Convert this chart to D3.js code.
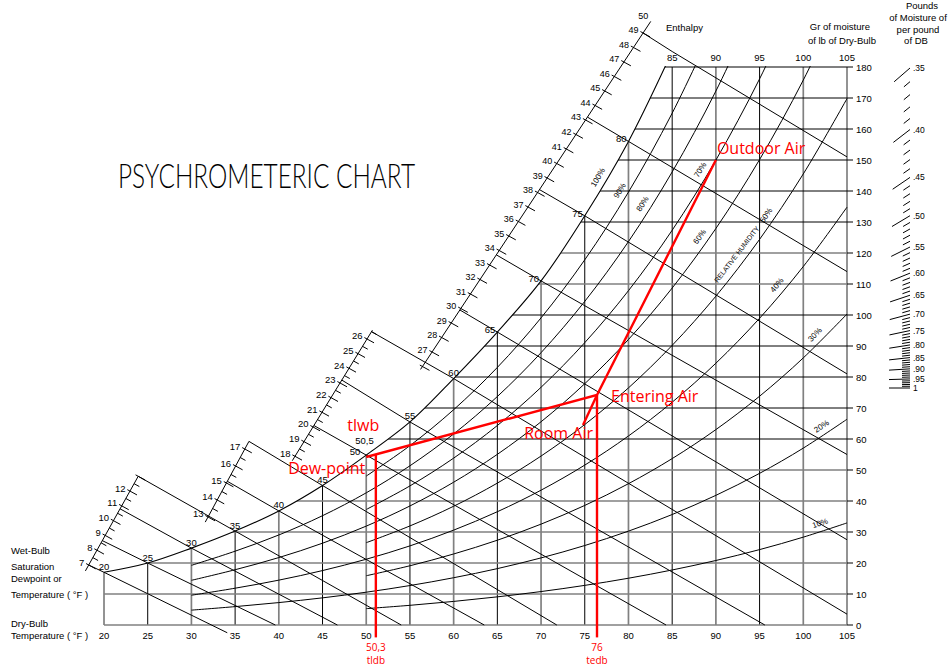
<!DOCTYPE html>
<html>
<head>
<meta charset="utf-8">
<title>Psychrometric chart</title>
<script src="https://cdn.jsdelivr.net/npm/d3@7/dist/d3.min.js"></script>
<style>
  html, body { margin:0; padding:0; background:#fff; }
  svg { display:block; }
  text { font-family: "Liberation Sans", Arial, Helvetica, sans-serif; fill:#000; }
  text.red { fill:#ff0000; font-family: "Open Sans", "Noto Sans", sans-serif; }
  text.title { font-family: "Lato", "Roboto", "DejaVu Sans", sans-serif; font-weight: 300; }
</style>
</head>
<body>
<svg id="chart" width="948" height="666"></svg>
<script>
// ---------------- data ----------------
const dryBulbTicks = [20,25,30,35,40,45,50,55,60,65,70,75,80,85,90,95,100,105];
const topDryBulbLabels = [85,90,95,100,105];
const grainTicks = [0,10,20,30,40,50,60,70,80,90,100,110,120,130,140,150,160,170,180];
const greyDryBulb = [20,30,40,50,60,70,80,90,100,105];
const greyGrains = [0,10,20,30,40,50,110,120];

// saturation (100% RH) curve: [dry-bulb °F, grains/lb]
const saturation = [[20,17],[25,20],[30,24.8],[35,30.3],[40,36.8],[45,45],[50,54.8],[55,65.5],
                    [60,79.5],[65,94.5],[70,111],[75,132],[80,156],[85,185]];

// wet-bulb / enthalpy lines
const wetBulbTemps    = [20,25,30,35,40,45,50,55,60,65,70,75,80,85];
const wetBulbEnthalpy = [7.0,8.65,10.8,13.0,15.1,17.45,20.1,23.2,26.5,29.9,33.7,38.2,43.2,49.0];
const wetBulbScale    = ['A','A','A','A','B','B','C','C','C','D','D','D','D','D'];
const wetBulbEnd      = [[34.1,-2.5],[39.6,0],[46.7,0],[54,0],[63.5,0],[71.8,0],[84.3,0],[95.6,0],
                         [105,3.5],[105,27.5],[105,55],[105,81],[105,114],[105,151]];

// relative humidity curves (grains/lb)
const rhEvenTemps = [30,35,40,45,50,55,60,65,70,75,80,85,90,95,100,105];
const rh20 = [4.79,5.93,7.23,8.76,10.58,12.73,15.25,18.19,21.64,25.64,30.28,35.64,41.82,48.92,57.06,66.37];
const rh40 = [9.60,11.87,14.47,17.56,21.21,25.52,30.60,36.54,43.49,51.58,60.98,71.87,84.45,98.95,115.64,134.79];
const rh60 = [14.41,17.83,21.75,26.39,31.90,38.40,46.06,55.05,65.56,77.84,92.11,108.70,127.91,150.14,175.78,205.4];
const rh80 = [19.24,23.81,29.04,35.26,42.64,51.36,61.62,73.70,87.85,104.40,123.69,146.15,172.24,202.5,null,null];
const rhOddTemps = [50,55,60,65,70,75,80,85,90,95,100,105];
const rh10 = [5.28,6.35,7.61,9.08,10.79,12.78,15.09,17.75,20.81,24.32,28.34,32.93];
const rh30 = [15.89,19.11,22.91,27.35,32.54,38.57,45.58,53.68,63.03,73.80,86.16,100.31];
const rh50 = [26.55,31.96,38.31,45.77,54.50,64.67,76.49,90.21,106.07,124.40,145.51,169.80];
const rh70 = [37.26,44.87,53.83,64.35,76.68,91.08,107.85,127.35,149.97,176.17,206.5,null];
const rh90 = [48.03,57.86,69.45,83.09,99.08,117.80,139.65,165.11,194.7,null,null,null];
const rhLevels = [10,20,30,40,50,60,70,80,90,100];
const rhLabelTemps = [102.2,102.6,102,97.7,96.5,88.9,89,82.4,79.8,77.3];
const rhTitle = "RELATIVE HUMIDITY";
const rhTitleTemp = 93.2;

// enthalpy scales (value -> position on chart in [°F, grains])
const enthScaleA = {lo:6.6,  hi:13.0,  v0:7,  p0:[18.25,19.35], v1:12, p1:[22.97,43.2],  labels:[7,8,9,10,11,12],  half:true};
const enthScaleB = {lo:12.7, hi:17.45, v0:13, p0:[31.9,34.84],  v1:17.6, p1:[36.74,60.06], labels:[13,14,15,16,17], half:true};
const enthScaleC = {lo:17.7, hi:26.6,  v0:18, p0:[41.85,54.42], v1:26, p1:[50.09,92.26], labels:[18,19,20,21,22,23,24,25,26], half:true};
const enthScaleD = {lo:25.8, hi:49.8,  v0:27, p0:[57.53,88.06], v1:49, p1:[81.67,190.97],
                    labels:[27,28,29,30,31,32,33,34,35,36,37,38,39,40,41,42,43,44,45,46,47,48,49,50], half:false};

// right-hand scale
const shfMajor = [0.35,0.40,0.45,0.50,0.55,0.60,0.65,0.70,0.75,0.80,0.85,0.90,0.95,1.00];
const shfLabels = ['.35','.40','.45','.50','.55','.60','.65','.70','.75','.80','.85','.90','.95','1'];

// red process overlay
const redDewPoint = [50, 54.2];
const redEntering = [76.4, 74.2];
const redOutdoor  = [90, 150];
const redRoom     = [74.8, 64.5];
const redTldb = 51.1, redTldbLabel = ['50,3','tldb'];
const redTedb = 76.4, redTedbLabel = ['76','tedb'];
const redBottom = -4;

// ---------------- drawing ----------------
const svg = d3.select('#chart');
const x = d3.scaleLinear().domain([20,105]).range([104,847]);
const y = d3.scaleLinear().domain([0,180]).range([625,67]);
const P = d => [x(d[0]), y(d[1])];
const curveGen = d3.line().defined(d => d[1] != null)
  .x(d => x(d[0])).y(d => y(d[1])).curve(d3.curveCatmullRom.alpha(0.5));
const satG = T => saturation.find(s => s[0] === T)[1];

const defs = svg.append('defs');
defs.append('clipPath').attr('id','frameClip').append('rect')
  .attr('x', x(20)-1.5).attr('y', y(180)-1).attr('width', x(105)-x(20)+3).attr('height', y(0)-y(180)+2.5);
const satPath = curveGen(saturation);
const lastSat = saturation[saturation.length-1];
defs.append('clipPath').attr('id','satClip').append('path')
  .attr('d', satPath + `L${x(105)+3},${y(lastSat[1])}L${x(105)+3},${y(0)+3}L${x(20)-3},${y(0)+3}L${x(20)-3},${y(saturation[0][1])}Z`);

const gGrid = svg.append('g').attr('clip-path','url(#frameClip)')
  .append('g').attr('clip-path','url(#satClip)');

// dry-bulb verticals
gGrid.selectAll('line.v').data(dryBulbTicks).join('line')
  .attr('x1', d => x(d)).attr('x2', d => x(d)).attr('y1', y(0)).attr('y2', y(180))
  .attr('stroke', d => greyDryBulb.includes(d) ? '#808080' : '#000')
  .attr('stroke-width', d => greyDryBulb.includes(d) ? 1.7 : 1);

// grain horizontals
gGrid.selectAll('line.h').data(grainTicks).join('line')
  .attr('x1', x(20)).attr('x2', x(105)).attr('y1', d => y(d)).attr('y2', d => y(d))
  .attr('stroke', d => greyGrains.includes(d) ? '#808080' : '#000')
  .attr('stroke-width', d => greyGrains.includes(d) ? 1.7 : 1);

// RH curves
const rhCurves = [
  {rh:10, pts: rhOddTemps.map((t,i)=>[t,rh10[i]])},
  {rh:20, pts: rhEvenTemps.map((t,i)=>[t,rh20[i]])},
  {rh:30, pts: rhOddTemps.map((t,i)=>[t,rh30[i]])},
  {rh:40, pts: rhEvenTemps.map((t,i)=>[t,rh40[i]])},
  {rh:50, pts: rhOddTemps.map((t,i)=>[t,rh50[i]])},
  {rh:60, pts: rhEvenTemps.map((t,i)=>[t,rh60[i]])},
  {rh:70, pts: rhOddTemps.map((t,i)=>[t,rh70[i]])},
  {rh:80, pts: rhEvenTemps.map((t,i)=>[t,rh80[i]])},
  {rh:90, pts: rhOddTemps.map((t,i)=>[t,rh90[i]])},
  {rh:100, pts: saturation}
];
gGrid.selectAll('path.rh').data(rhCurves.filter(c => c.rh < 100)).join('path')
  .attr('d', c => curveGen(c.pts)).attr('fill','none').attr('stroke','#000').attr('stroke-width',1);

// saturation curve
svg.append('g').attr('clip-path','url(#frameClip)').append('path')
  .attr('d', satPath).attr('fill','none').attr('stroke','#000').attr('stroke-width',1.1);

// right-edge tick extensions and grain labels
svg.selectAll('line.gt').data(grainTicks).join('line')
  .attr('x1', x(105)).attr('x2', x(105)+6).attr('y1', d=>y(d)).attr('y2', d=>y(d))
  .attr('stroke','#000').attr('stroke-width',1);
svg.selectAll('text.gl').data(grainTicks).join('text')
  .attr('x', x(105)+9).attr('y', d => y(d)+3.5).attr('font-size', 9.5).text(d => d);

// bottom dry-bulb labels
svg.selectAll('text.db').data(dryBulbTicks).join('text')
  .attr('x', d => x(d)).attr('y', 639).attr('text-anchor','middle').attr('font-size', 9.5).text(d => d);
// top dry-bulb labels
svg.selectAll('text.dbt').data(topDryBulbLabels).join('text')
  .attr('x', d => x(d)).attr('y', y(180)-6).attr('text-anchor','middle').attr('font-size', 9.5).text(d => d);

// enthalpy scales
const enthScales = {A:enthScaleA, B:enthScaleB, C:enthScaleC, D:enthScaleD};
function enthPoint(s, v) {
  const t = (v - s.v0) / (s.v1 - s.v0);
  return [s.p0[0] + t*(s.p1[0]-s.p0[0]), s.p0[1] + t*(s.p1[1]-s.p0[1])];
}
const wbDir = (() => { const l = Math.hypot(1, 0.55); return [1/l, 0.55/l]; })();
const gScale = svg.append('g').attr('stroke','#000').attr('stroke-width',1).attr('fill','none');
Object.values(enthScales).forEach(s => {
  const a = P(enthPoint(s, s.lo)), b = P(enthPoint(s, s.hi));
  gScale.append('line').attr('x1',a[0]).attr('y1',a[1]).attr('x2',b[0]).attr('y2',b[1]);
  const step = s.half ? 0.5 : 1;
  const ticks = d3.range(Math.ceil(s.lo/step)*step, s.hi + 1e-6, step);
  ticks.forEach(v => {
    const p = P(enthPoint(s, v));
    const isInt = Math.abs(v - Math.round(v)) < 1e-6;
    const back = isInt ? 3 : 0, fwd = isInt ? 8 : 6;
    gScale.append('line')
      .attr('x1', p[0]-wbDir[0]*back).attr('y1', p[1]-wbDir[1]*back)
      .attr('x2', p[0]+wbDir[0]*fwd).attr('y2', p[1]+wbDir[1]*fwd);
  });
  const fs = s.half ? 9.5 : 9;
  s.labels.forEach(v => {
    const p = P(enthPoint(s, v));
    svg.append('text').attr('x', p[0]-4.5).attr('y', p[1]+0.5)
      .attr('text-anchor','end').attr('font-size', fs).text(v);
  });
});

// wet-bulb lines
const gWb = svg.append('g').attr('stroke','#000').attr('stroke-width',1).attr('fill','none');
wetBulbTemps.forEach((T, i) => {
  const s = enthScales[wetBulbScale[i]];
  const a = P(enthPoint(s, wetBulbEnthalpy[i]));
  const m = P([T, satG(T)]);
  const e = P(wetBulbEnd[i]);
  gWb.append('path').attr('d', `M${a[0]},${a[1]}L${m[0]},${m[1]}L${e[0]},${e[1]}`);
});
// wet-bulb labels on saturation curve
wetBulbTemps.filter(T => T < 85).forEach(T => {
  const m = P([T, satG(T)]);
  const left = T >= 65 || T === 50;
  svg.append('text')
    .attr('x', left ? m[0] - (T === 50 ? 6 : 2) : m[0])
    .attr('y', left ? m[1] + (T === 50 ? -0.5 : 1) : m[1] - 2.5)
    .attr('text-anchor', left ? 'end' : 'middle')
    .attr('font-size', 9.5).text(T);
});

// RH labels
function curveFrame(pts, T) {
  const def = pts.filter(d => d[1] != null);
  const interp = t => {
    for (let k = 0; k < def.length-1; k++) {
      if (t >= def[k][0] && t <= def[k+1][0]) {
        const f = (t - def[k][0])/(def[k+1][0]-def[k][0]);
        return def[k][1] + f*(def[k+1][1]-def[k][1]);
      }
    }
    return def[def.length-1][1];
  };
  const p = P([T, interp(T)]);
  const p1 = P([T-0.6, interp(T-0.6)]), p2 = P([T+0.6, interp(T+0.6)]);
  const dx = p2[0]-p1[0], dy = p2[1]-p1[1], l = Math.hypot(dx,dy);
  return {p, t:[dx/l, dy/l], ang: Math.atan2(dy,dx)*180/Math.PI};
}
rhCurves.forEach((c, i) => {
  const f = curveFrame(c.pts, rhLabelTemps[i]);
  const n = [f.t[1], -f.t[0]];
  const cx = f.p[0] + n[0]*8, cy = f.p[1] + n[1]*8;
  svg.append('text').attr('transform', `translate(${cx},${cy}) rotate(${f.ang})`)
    .attr('text-anchor','middle').attr('dominant-baseline','central')
    .attr('font-size', 8).text(c.rh + '%');
});
{
  const f = curveFrame(rhCurves[4].pts, rhTitleTemp);
  const n = [f.t[1], -f.t[0]];
  const cx = f.p[0] + n[0]*9, cy = f.p[1] + n[1]*9;
  svg.append('text').attr('transform', `translate(${cx},${cy}) rotate(${f.ang})`)
    .attr('text-anchor','middle').attr('dominant-baseline','central')
    .attr('font-size', 7).text(rhTitle);
}

// right-hand scale
const shfY = d3.scaleLinear().domain([1/0.35, 1]).range([68, 388]);
const shfAngle = d3.scaleLinear().domain([0.35,0.5,0.6,0.7,0.8,0.9,1]).range([41,31,22,15,9,3.5,0]);
const shfTicks = d3.range(35, 101).map(i => i/100);
const gShf = svg.append('g').attr('stroke','#000').attr('stroke-width',1);
shfTicks.forEach(v => {
  const major = Math.round(v*100) % 5 === 0;
  const len = major ? 21 : 8;
  const a = shfAngle(v) * Math.PI/180;
  const yv = shfY(1/v);
  gShf.append('line').attr('x2', 910).attr('y2', yv)
    .attr('x1', 910 - len*Math.cos(a)).attr('y1', yv + len*Math.sin(a));
});
svg.selectAll('text.shf').data(shfMajor).join('text')
  .attr('x', 913).attr('y', (d) => shfY(1/d) + 3).attr('font-size', 8.5)
  .text((d,i) => shfLabels[i]);

// header texts
svg.append('text').attr('x', 666).attr('y', 31).attr('font-size', 9.5).text('Enthalpy');
svg.append('text').attr('x', 870).attr('y', 30).attr('font-size', 9.5).attr('text-anchor','end').text('Gr of moisture');
svg.append('text').attr('x', 876).attr('y', 43.5).attr('font-size', 9.5).attr('text-anchor','end').text('of lb of Dry-Bulb');
[['Pounds',9,922],['of Moisture of',21,918],['per pound',32.5,918],['of DB',43.5,916]].forEach(r => {
  svg.append('text').attr('x', r[2]).attr('y', r[1]).attr('font-size', 9.5).attr('text-anchor','middle').text(r[0]);
});
// left legend
[['Wet-Bulb',553.5],['Saturation',570],['Dewpoint or',581.5],['Temperature ( °F )',597.5],
 ['Dry-Bulb',627],['Temperature ( °F )',639]].forEach(r => {
  svg.append('text').attr('x', 11).attr('y', r[1]).attr('font-size', 9.5).text(r[0]);
});
// title
svg.append('text').attr('class','title').attr('x', 118).attr('y', 188)
  .attr('font-size', 33).attr('textLength', 297).attr('lengthAdjust','spacingAndGlyphs')
  .text('PSYCHROMETERIC CHART');

// ---------------- red overlay ----------------
const gRed = svg.append('g').attr('stroke','#ff0000').attr('stroke-width',2.4).attr('fill','none')
  .attr('stroke-linecap','butt');
const tldbTop = redDewPoint[1] + (redTldb - redDewPoint[0]) / (redEntering[0]-redDewPoint[0]) * (redEntering[1]-redDewPoint[1]);
gRed.append('line').attr('x1', x(redTldb)).attr('x2', x(redTldb)).attr('y1', y(redBottom)).attr('y2', y(tldbTop));
gRed.append('line').attr('x1', x(redTedb)).attr('x2', x(redTedb)).attr('y1', y(redBottom)).attr('y2', y(redEntering[1]));
gRed.append('path').attr('d', d3.line()([P(redDewPoint), P(redEntering), P(redOutdoor)]));
gRed.append('path').attr('d', d3.line()([P(redEntering), P(redRoom)]));

const dp = P(redDewPoint), en = P(redEntering), od = P(redOutdoor), rm = P(redRoom);
svg.append('text').attr('class','red').attr('x', od[0]+1).attr('y', od[1]-6).attr('font-size',16).text('Outdoor Air');
svg.append('text').attr('class','red').attr('x', en[0]+14).attr('y', en[1]+7).attr('font-size',16).text('Entering Air');
svg.append('text').attr('class','red').attr('x', rm[0]+10).attr('y', rm[1]+14).attr('text-anchor','end').attr('font-size',16).text('Room Air');
svg.append('text').attr('class','red').attr('x', dp[0]-1).attr('y', dp[1]+17.5).attr('text-anchor','end').attr('font-size',16).text('Dew-point');
svg.append('text').attr('class','red').attr('x', dp[0]-19).attr('y', dp[1]-26).attr('font-size',16).text('tlwb');
svg.append('text').attr('x', dp[0]-11).attr('y', dp[1]-12.5).attr('font-size',9.5).text('50,5');
[[redTldb, redTldbLabel],[redTedb, redTedbLabel]].forEach(r => {
  svg.append('text').attr('class','red').attr('x', x(r[0])).attr('y', 650.5).attr('text-anchor','middle').attr('font-size',10).text(r[1][0]);
  svg.append('text').attr('class','red').attr('x', x(r[0])).attr('y', 663.5).attr('text-anchor','middle').attr('font-size',10).text(r[1][1]);
});
</script>
</body>
</html>
